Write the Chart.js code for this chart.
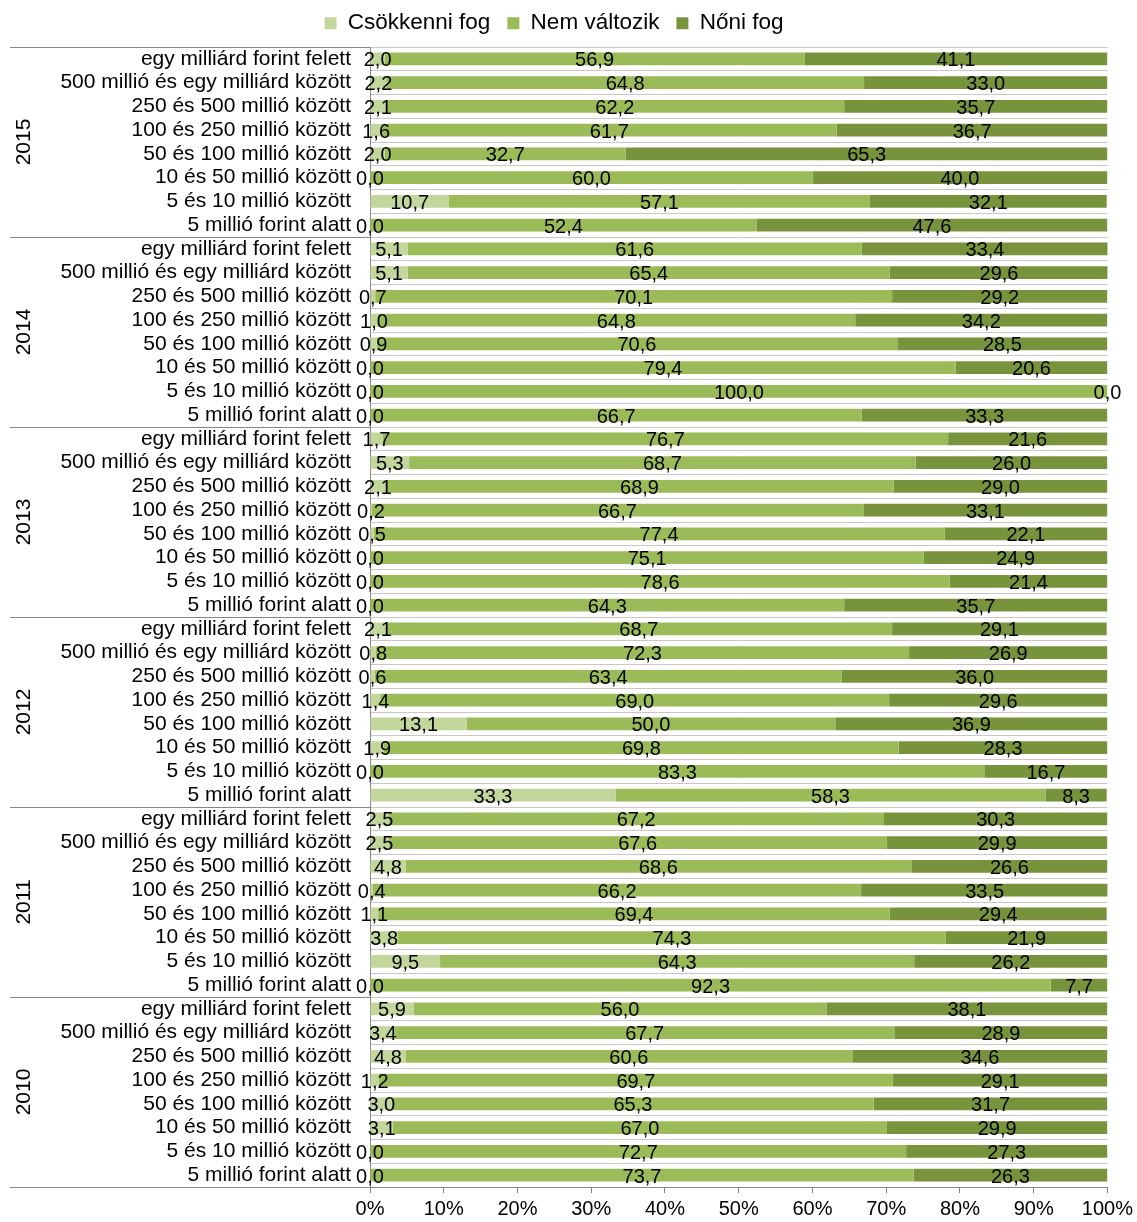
<!DOCTYPE html>
<html>
<head>
<meta charset="utf-8">
<script src="https://cdn.jsdelivr.net/npm/chart.js@4.4.1/dist/chart.umd.min.js"></script>
<style>
  html, body { margin: 0; padding: 0; background: #fff; }
  #wrap { width: 1137px; height: 1222px; }
</style>
</head>
<body>
<div id="wrap"><canvas id="chart" width="1137" height="1222"></canvas></div>
<script>
// Years, top to bottom
const years = ['2015', '2014', '2013', '2012', '2011', '2010'];

// Revenue bands inside each year, top to bottom
const bands = [
    'egy milliárd forint felett',
    '500 millió és egy milliárd között',
    '250 és 500 millió között',
    '100 és 250 millió között',
    '50 és 100 millió között',
    '10 és 50 millió között',
    '5 és 10 millió között',
    '5 millió forint alatt'
];

const seriesNames = ['Csökkenni fog', 'Nem változik', 'Nőni fog'];

// Values per year block (2015 ... 2010), each block follows the bands order
const csokkenni = [
    2.0, 2.2, 2.1, 1.6, 2.0, 0.0, 10.7, 0.0,
    5.1, 5.1, 0.7, 1.0, 0.9, 0.0, 0.0, 0.0,
    1.7, 5.3, 2.1, 0.2, 0.5, 0.0, 0.0, 0.0,
    2.1, 0.8, 0.6, 1.4, 13.1, 1.9, 0.0, 33.3,
    2.5, 2.5, 4.8, 0.4, 1.1, 3.8, 9.5, 0.0,
    5.9, 3.4, 4.8, 1.2, 3.0, 3.1, 0.0, 0.0
];
const nemValtozik = [
    56.9, 64.8, 62.2, 61.7, 32.7, 60.0, 57.1, 52.4,
    61.6, 65.4, 70.1, 64.8, 70.6, 79.4, 100.0, 66.7,
    76.7, 68.7, 68.9, 66.7, 77.4, 75.1, 78.6, 64.3,
    68.7, 72.3, 63.4, 69.0, 50.0, 69.8, 83.3, 58.3,
    67.2, 67.6, 68.6, 66.2, 69.4, 74.3, 64.3, 92.3,
    56.0, 67.7, 60.6, 69.7, 65.3, 67.0, 72.7, 73.7
];
const noniFog = [
    41.1, 33.0, 35.7, 36.7, 65.3, 40.0, 32.1, 47.6,
    33.4, 29.6, 29.2, 34.2, 28.5, 20.6, 0.0, 33.3,
    21.6, 26.0, 29.0, 33.1, 22.1, 24.9, 21.4, 35.7,
    29.1, 26.9, 36.0, 29.6, 36.9, 28.3, 16.7, 8.3,
    30.3, 29.9, 26.6, 33.5, 29.4, 21.9, 26.2, 7.7,
    38.1, 28.9, 34.6, 29.1, 31.7, 29.9, 27.3, 26.3
];

// x axis ticks (percent)
const xTicks = [0, 10, 20, 30, 40, 50, 60, 70, 80, 90, 100];

const colors = ['#c3d69b', '#9bbb59', '#77933c'];
const FONT = "'Liberation Sans', Arial, sans-serif";

// one label per row: the band name (year goes in the side column)
const rowLabels = [];
years.forEach(() => bands.forEach(b => rowLabels.push(b)));

// value labels centered on every segment
const valueLabels = {
    id: 'valueLabels',
    afterDatasetsDraw(chart) {
        const ctx = chart.ctx;
        ctx.save();
        ctx.font = '20px ' + FONT;
        ctx.fillStyle = '#000';
        ctx.textAlign = 'center';
        ctx.textBaseline = 'middle';
        chart.data.datasets.forEach((ds, i) => {
            chart.getDatasetMeta(i).data.forEach((bar, j) => {
                const x = (bar.x + bar.base) / 2;
                ctx.fillText(ds.data[j].toFixed(1).replace('.', ','), x, bar.y + 2);
            });
        });
        ctx.restore();
    }
};

// year column with separators
const yearGroups = {
    id: 'yearGroups',
    afterDraw(chart) {
        const ctx = chart.ctx;
        const area = chart.chartArea;
        const step = (area.bottom - area.top) / rowLabels.length;
        ctx.save();
        ctx.strokeStyle = '#868686';
        ctx.lineWidth = 1;
        for (let g = 0; g <= years.length; g++) {
            const yy = Math.round(area.top + g * bands.length * step) + 0.5;
            ctx.beginPath();
            ctx.moveTo(10, yy);
            ctx.lineTo(area.left, yy);
            ctx.stroke();
        }
        ctx.fillStyle = '#000';
        ctx.font = '21px ' + FONT;
        ctx.textAlign = 'center';
        ctx.textBaseline = 'middle';
        years.forEach((yr, g) => {
            const cy = area.top + (g + 0.5) * bands.length * step;
            ctx.save();
            ctx.translate(24, cy);
            ctx.rotate(-Math.PI / 2);
            ctx.fillText(yr, 0, 0);
            ctx.restore();
        });
        ctx.restore();
    }
};

const legendHeight = {
    id: 'legendHeight',
    beforeInit(chart) {
        const fit = chart.legend.fit;
        chart.legend.fit = function () {
            fit.call(this);
            this.height = 52;
        };
    }
};

new Chart(document.getElementById('chart').getContext('2d'), {
    type: 'bar',
    data: {
        labels: rowLabels,
        datasets: [
            { label: seriesNames[0], data: csokkenni, backgroundColor: colors[0] },
            { label: seriesNames[1], data: nemValtozik, backgroundColor: colors[1] },
            { label: seriesNames[2], data: noniFog, backgroundColor: colors[2] }
        ]
    },
    options: {
        indexAxis: 'y',
        responsive: false,
        animation: false,
        barPercentage: 0.54,
        categoryPercentage: 1,
        layout: { padding: { top: -5, right: 29, left: 0, bottom: 0 } },
        plugins: {
            legend: {
                position: 'top',
                labels: {
                    font: { family: FONT, size: 22.5 },
                    color: '#000',
                    boxWidth: 12,
                    boxHeight: 12,
                    padding: 17
                }
            },
            tooltip: { enabled: false }
        },
        scales: {
            x: {
                stacked: true,
                min: 0,
                max: 100,
                afterBuildTicks(scale) {
                    scale.ticks = xTicks.map(v => ({ value: v }));
                },
                afterFit(scale) { scale.height = 35; },
                ticks: {
                    font: { family: FONT, size: 20 },
                    color: '#000',
                    padding: 4,
                    maxRotation: 0,
                    callback: v => v + '%'
                },
                grid: { drawOnChartArea: false, drawTicks: true, tickLength: 6, color: '#868686' },
                border: { color: '#868686' }
            },
            y: {
                stacked: true,
                afterFit(scale) { scale.width = 370; },
                ticks: {
                    font: { family: FONT, size: 21 },
                    color: '#000',
                    padding: 19,
                    autoSkip: false
                },
                grid: { drawTicks: false, color: '#c8c8c8', offset: true },
                border: { color: '#868686' }
            }
        }
    },
    plugins: [valueLabels, yearGroups, legendHeight]
});
</script>
</body>
</html>
